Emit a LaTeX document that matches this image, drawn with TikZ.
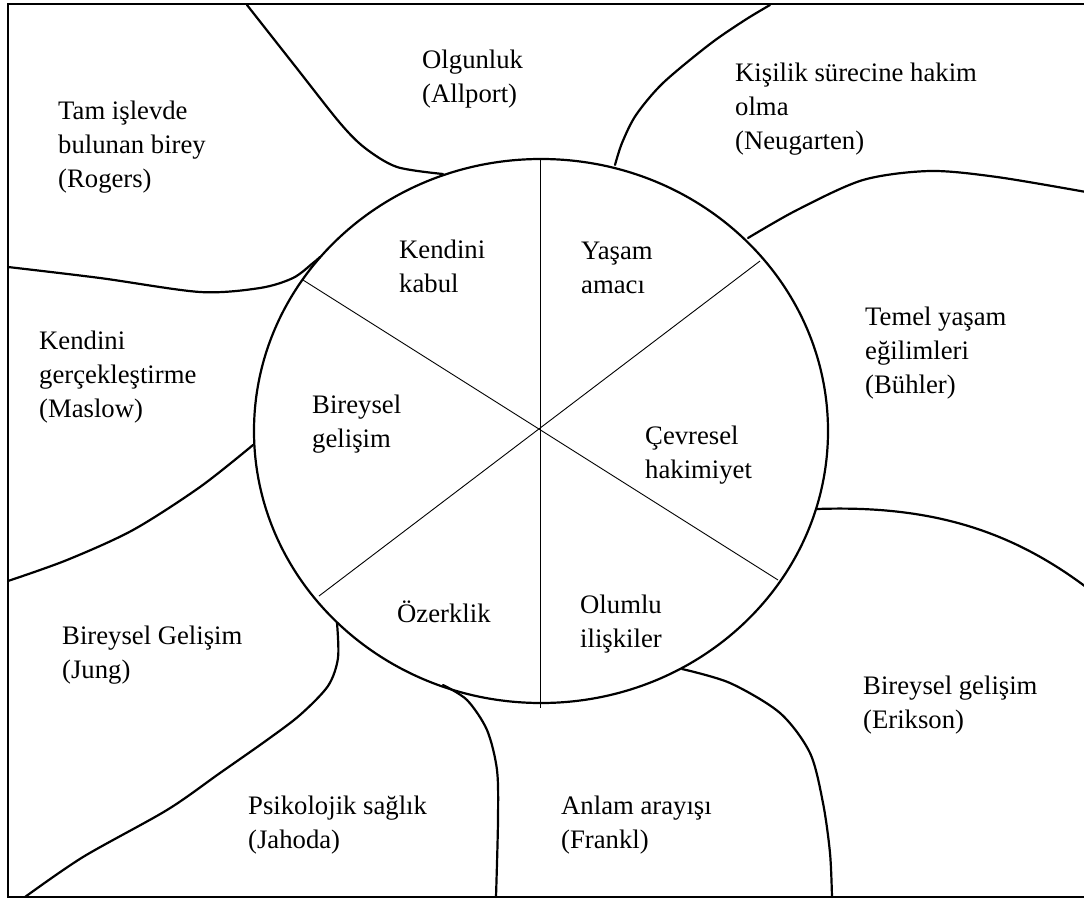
\documentclass[tikz,border=0pt]{standalone}
\usepackage{fontspec}
\setmainfont{Liberation Serif}
\begin{document}
\begin{tikzpicture}[x=1pt,y=-1pt,
  txt/.style={anchor=west,inner sep=0pt,align=left,
    font=\fontsize{26.7}{34}\selectfont},
  frame/.style={line width=2pt},
  wave/.style={line width=2.2pt,line cap=round,line join=round},
  rim/.style={line width=2.2pt},
  spoke/.style={line width=0.9pt}]
\useasboundingbox (0,0) rectangle (1084,899);
\clip (0,0) rectangle (1084,899);

% outer frame (right side runs off the page)
\draw[frame] (8,4) rectangle (1110,897);

% central wheel and its six sectors
\coordinate (hub) at (541,431);
\draw[rim] (hub) ellipse [x radius=287, y radius=272];
\draw[spoke] (540,159) -- (540,708);
\draw[spoke] (303,280) -- (778,580);
\draw[spoke] (760,261) -- (319,596);

% wavy dividers between the outer fields
\draw[wave] plot[smooth] coordinates {(247,5) (295,66) (340,123) (365,148) (397,167) (443,174)};
\draw[wave] plot[smooth] coordinates {(615,165) (622,143) (636,115) (663,83) (710,44) (745,20) (770,5)};
\draw[wave] plot[smooth] coordinates {(748,238) (797,210) (863,180) (930,171) (997,177) (1086,192)};
\draw[wave] (817,509) .. controls (930,505) and (1010,530) .. (1086,587);
\draw[wave] plot[smooth] coordinates {(682,669) (730,683) (780,713) (810,753) (823,803) (830,853) (832,897)};
\draw[wave] plot[smooth] coordinates {(443,685) (467,700) (487,730) (497,770) (498,820) (496,897)};
\draw[wave] plot[smooth] coordinates {(337,623) (338,658) (328,686) (300,715) (267,740) (220,773) (167,810) (83,857) (25,897)};
\draw[wave] plot[smooth] coordinates {(253,445) (200,487) (133,530) (67,560) (8,581)};
\draw[wave] plot[smooth] coordinates {(8,267) (100,278) (200,292) (260,288) (293,278) (313,263) (320,257)};

% outer fields
\node[txt] (allport)   at (422,79)  {Olgunluk\\(Allport)};
\node[txt] (neugarten) at (735,109) {Kişilik sürecine hakim\\olma\\(Neugarten)};
\node[txt] (rogers)    at (58,147)  {Tam işlevde\\bulunan birey\\(Rogers)};
\node[txt] (buhler)    at (865,353) {Temel yaşam\\eğilimleri\\(Bühler)};
\node[txt] (maslow)    at (39,377)  {Kendini\\gerçekleştirme\\(Maslow)};
\node[txt] (jung)      at (62,655)  {Bireysel Gelişim\\(Jung)};
\node[txt] (erikson)   at (863,705) {Bireysel gelişim\\(Erikson)};
\node[txt] (jahoda)    at (248,825) {Psikolojik sağlık\\(Jahoda)};
\node[txt] (frankl)    at (561,825) {Anlam arayışı\\(Frankl)};

% wheel sectors
\node[txt] (kabul)    at (399,266) {Kendini\\kabul};
\node[txt] (amac)     at (581,268) {Yaşam\\amacı};
\node[txt] (bireysel) at (312,424) {Bireysel\\gelişim};
\node[txt] (cevre)    at (645,455) {Çevresel\\hakimiyet};
\node[txt] (ozerk)    at (397,612) {Özerklik};
\node[txt] (olumlu)   at (580,624) {Olumlu\\ilişkiler};
\end{tikzpicture}
\end{document}
